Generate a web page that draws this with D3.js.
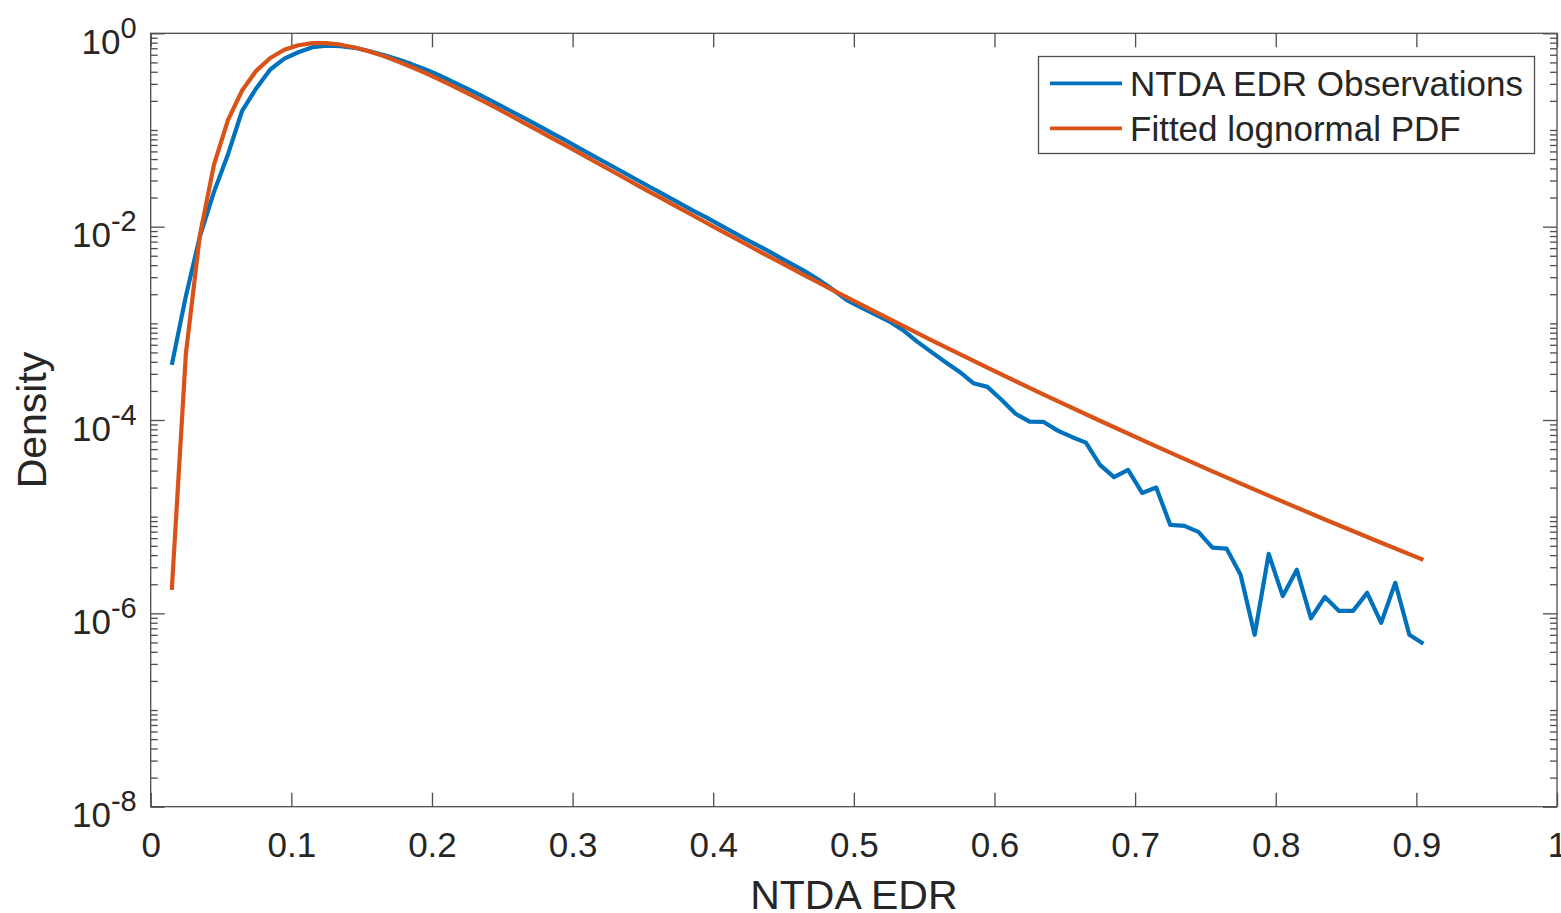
<!DOCTYPE html>
<html>
<head>
<meta charset="utf-8">
<script src="https://cdn.jsdelivr.net/npm/d3@7"></script>
<style>
  body { margin: 0; background: #fff; }
  svg { display: block; }
  text { font-family: "Liberation Sans", Arial, Helvetica, sans-serif; fill: #262626; }
</style>
</head>
<body>
<svg id="chart" width="1561" height="913"></svg>
<script>
// Histogram bin centres (NTDA EDR) and observed density per bin
const binCenters = [
  0.015, 0.025, 0.035, 0.045, 0.055, 0.065, 0.075, 0.085, 0.095, 0.105,
  0.115, 0.125, 0.135, 0.145, 0.155, 0.165, 0.175, 0.185, 0.195, 0.205,
  0.215, 0.225, 0.235, 0.245, 0.255, 0.265, 0.275, 0.285, 0.295, 0.305,
  0.315, 0.325, 0.335, 0.345, 0.355, 0.365, 0.375, 0.385, 0.395, 0.405,
  0.415, 0.425, 0.435, 0.445, 0.455, 0.465, 0.475, 0.485, 0.495, 0.505,
  0.515, 0.525, 0.535, 0.545, 0.555, 0.565, 0.575, 0.585, 0.595, 0.605,
  0.615, 0.625, 0.635, 0.645, 0.655, 0.665, 0.675, 0.685, 0.695, 0.705,
  0.715, 0.725, 0.735, 0.745, 0.755, 0.765, 0.775, 0.785, 0.795, 0.805,
  0.815, 0.825, 0.835, 0.845, 0.855, 0.865, 0.875, 0.885, 0.895, 0.905
];
const observedDensity = [
  3.72e-4, 1.91e-3, 7.94e-3, 0.0229, 0.0562, 0.158, 0.269, 0.422, 0.547, 0.637,
  0.718, 0.745, 0.738, 0.708, 0.655, 0.600, 0.542, 0.483, 0.425, 0.368,
  0.315, 0.268, 0.226, 0.191, 0.160, 0.134, 0.112, 0.0933, 0.0780, 0.0646,
  0.0537, 0.0447, 0.0372, 0.0309, 0.0257, 0.0214, 0.0178, 0.0148, 0.01245, 0.01035,
  0.00861, 0.00716, 0.00603, 0.00501, 0.00417, 0.00347, 0.00282, 0.00224, 0.00174, 0.00146,
  0.00124, 0.00105, 8.51e-4, 6.46e-4, 5.06e-4, 3.98e-4, 3.16e-4, 2.40e-4, 2.20e-4, 1.62e-4,
  1.16e-4, 9.62e-5, 9.55e-5, 7.76e-5, 6.68e-5, 5.83e-5, 3.44e-5, 2.57e-5, 3.05e-5, 1.76e-5,
  2.00e-5, 8.22e-6, 8.04e-6, 6.97e-6, 4.79e-6, 4.68e-6, 2.51e-6, 6.0e-7, 4.12e-6, 1.51e-6,
  2.82e-6, 8.9e-7, 1.48e-6, 1.06e-6, 1.06e-6, 1.63e-6, 7.98e-7, 2.07e-6, 6.0e-7, 4.84e-7
];

// Fitted lognormal PDF sampled along EDR
const fitEdr = [
  0.015, 0.025, 0.035, 0.045, 0.055, 0.065, 0.075, 0.085, 0.095, 0.105,
  0.115, 0.125, 0.135, 0.145, 0.155, 0.165, 0.175, 0.185, 0.195, 0.205,
  0.215, 0.225, 0.235, 0.245, 0.255, 0.265, 0.275, 0.285, 0.295, 0.305,
  0.315, 0.325, 0.335, 0.345, 0.355, 0.365, 0.375, 0.385, 0.395, 0.405,
  0.415, 0.425, 0.435, 0.445, 0.455, 0.465, 0.475, 0.485, 0.515, 0.555,
  0.595, 0.635, 0.675, 0.715, 0.755, 0.795, 0.835, 0.875, 0.905
];
const fitDensity = [
  1.75e-6, 4.81e-4, 8.22e-3, 0.0439, 0.127, 0.256, 0.409, 0.556, 0.675, 0.753,
  0.790, 0.790, 0.762, 0.713, 0.652, 0.585, 0.517, 0.451, 0.390, 0.334,
  0.284, 0.241, 0.203, 0.171, 0.143, 0.119, 0.0997, 0.0830, 0.0692, 0.0575,
  0.0478, 0.0397, 0.0330, 0.0274, 0.0228, 0.0190, 0.0158, 0.0132, 0.01097, 0.00915,
  0.00764, 0.00638, 0.00533, 0.00447, 0.00374, 0.00313, 0.00263, 0.00221, 0.00132, 6.72e-4,
  3.48e-4, 1.83e-4, 9.82e-5, 5.34e-5, 2.94e-5, 1.65e-5, 9.35e-6, 5.37e-6, 3.57e-6
];

const xTickValues = [0, 0.1, 0.2, 0.3, 0.4, 0.5, 0.6, 0.7, 0.8, 0.9, 1];
const xTickLabels = ["0", "0.1", "0.2", "0.3", "0.4", "0.5", "0.6", "0.7", "0.8", "0.9", "1"];
const yTickExponents = [0, -2, -4, -6, -8];

const seriesNames = ["NTDA EDR Observations", "Fitted lognormal PDF"];
const seriesColors = ["#0072BD", "#D95319"];
const xLabel = "NTDA EDR";
const yLabel = "Density";

// ---- layout ----
const plot = { left: 150.7, right: 1557, top: 33.3, bottom: 806.7 };
const axisColor = "#4d4d4d";
const tickFont = 35;
const lineWidth = 4.2;

const svg = d3.select("#chart");

const x = d3.scaleLinear().domain([0, 1]).range([plot.left, plot.right]);
const y = d3.scaleLog().domain([1e-8, 1]).range([plot.bottom, plot.top]);

// log tick sets: long ticks at labelled decades, short ticks elsewhere
const majorY = yTickExponents.map(e => Math.pow(10, e));
const minorY = [];
for (let e = -8; e < 0; e++) {
  for (let k = 1; k <= 9; k++) {
    const v = k * Math.pow(10, e);
    if (!(k === 1 && e % 2 === 0)) minorY.push(v);
  }
}

function styleAxis(g) {
  g.select(".domain").remove();
  g.selectAll(".tick line").attr("stroke", axisColor).attr("stroke-width", 1.3);
}

// bottom axis (ticks point inward)
svg.append("g")
  .attr("transform", `translate(0,${plot.bottom})`)
  .call(d3.axisBottom(x).tickValues(xTickValues)
    .tickFormat((d, i) => xTickLabels[i])
    .tickSizeInner(-14).tickSizeOuter(0).tickPadding(25))
  .call(styleAxis)
  .call(g => g.selectAll(".tick text")
    .attr("font-size", tickFont)
    .attr("font-family", '"Liberation Sans", Arial, Helvetica, sans-serif')
    .attr("fill", "#262626"));

// top axis mirror
svg.append("g")
  .attr("transform", `translate(0,${plot.top})`)
  .call(d3.axisTop(x).tickValues(xTickValues).tickFormat("")
    .tickSizeInner(-14).tickSizeOuter(0))
  .call(styleAxis);

// left & right log axes
[[d3.axisLeft, plot.left], [d3.axisRight, plot.right]].forEach(([axisFn, pos]) => {
  svg.append("g")
    .attr("transform", `translate(${pos},0)`)
    .call(axisFn(y).tickValues(minorY).tickFormat("").tickSizeInner(-7).tickSizeOuter(0))
    .call(styleAxis);
  svg.append("g")
    .attr("transform", `translate(${pos},0)`)
    .call(axisFn(y).tickValues(majorY).tickFormat("").tickSizeInner(-14).tickSizeOuter(0))
    .call(styleAxis);
});

// y tick labels: 10 with superscript exponent
const yLabels = svg.append("g");
yTickExponents.forEach(e => {
  const t = yLabels.append("text")
    .attr("x", plot.left - 14)
    .attr("y", y(Math.pow(10, e)) + 20.5)
    .attr("text-anchor", "end")
    .attr("font-size", tickFont);
  t.append("tspan").text("10");
  t.append("tspan").attr("dy", -16).attr("font-size", 29).text(String(e));
});

// frame
svg.append("rect")
  .attr("x", plot.left).attr("y", plot.top)
  .attr("width", plot.right - plot.left).attr("height", plot.bottom - plot.top)
  .attr("fill", "none").attr("stroke", axisColor).attr("stroke-width", 1.3);

// axis titles
svg.append("text")
  .attr("x", (plot.left + plot.right) / 2).attr("y", 909)
  .attr("text-anchor", "middle").attr("font-size", 41)
  .text(xLabel);
svg.append("text")
  .attr("transform", `translate(46,${(plot.top + plot.bottom) / 2}) rotate(-90)`)
  .attr("text-anchor", "middle").attr("font-size", 41)
  .text(yLabel);

// data lines
const line = d3.line().x(d => x(d[0])).y(d => y(d[1]));
svg.append("clipPath").attr("id", "plot-clip").append("rect")
  .attr("x", plot.left).attr("y", plot.top)
  .attr("width", plot.right - plot.left).attr("height", plot.bottom - plot.top);

const lines = svg.append("g").attr("clip-path", "url(#plot-clip)");
lines.append("path")
  .datum(d3.zip(binCenters, observedDensity))
  .attr("d", line)
  .attr("fill", "none").attr("stroke", seriesColors[0])
  .attr("stroke-width", lineWidth).attr("stroke-linejoin", "round").attr("stroke-linecap", "butt");
lines.append("path")
  .datum(d3.zip(fitEdr, fitDensity))
  .attr("d", line)
  .attr("fill", "none").attr("stroke", seriesColors[1])
  .attr("stroke-width", lineWidth).attr("stroke-linejoin", "round").attr("stroke-linecap", "butt");

// legend
const legend = svg.append("g");
legend.append("rect")
  .attr("x", 1038.5).attr("y", 56.5).attr("width", 496).attr("height", 97)
  .attr("fill", "#fff").attr("stroke", axisColor).attr("stroke-width", 1.3);
const rowY = [83.3, 128.3];
seriesNames.forEach((name, i) => {
  legend.append("line")
    .attr("x1", 1050).attr("x2", 1122)
    .attr("y1", rowY[i]).attr("y2", rowY[i])
    .attr("stroke", seriesColors[i]).attr("stroke-width", 3.8);
  legend.append("text")
    .attr("x", 1130).attr("y", rowY[i] + 12.5)
    .attr("font-size", tickFont)
    .text(name);
});
</script>
</body>
</html>
